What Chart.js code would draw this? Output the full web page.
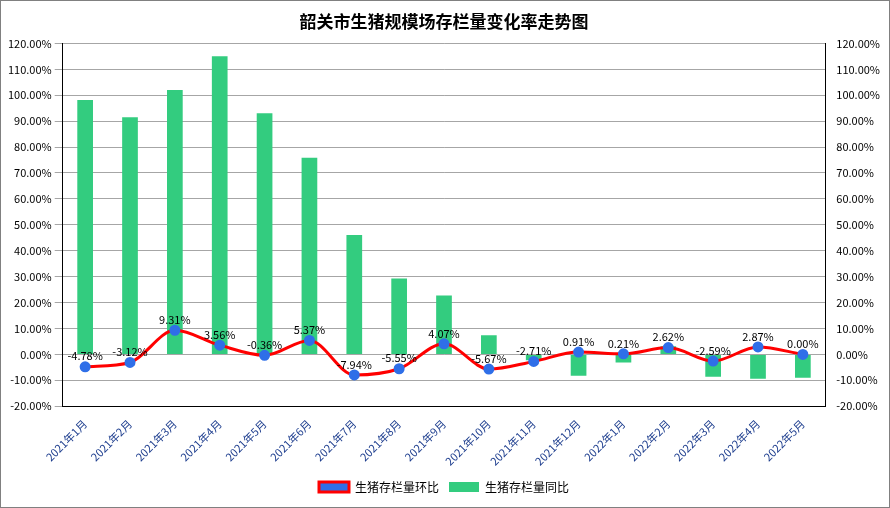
<!DOCTYPE html>
<html><head><meta charset="utf-8">
<script src="https://cdn.jsdelivr.net/npm/chart.js@4/dist/chart.umd.min.js"></script>
<style>
html,body{margin:0;padding:0;background:#fff}
#wrap{position:absolute;left:0;top:0;width:888px;height:506px;border:1px solid #808080}
</style></head><body>
<div id="wrap"><canvas id="c" width="888" height="506"></canvas></div>
<script>
var categories = ['2021年1月','2021年2月','2021年3月','2021年4月','2021年5月','2021年6月','2021年7月','2021年8月','2021年9月','2021年10月','2021年11月','2021年12月','2022年1月','2022年2月','2022年3月','2022年4月','2022年5月'];
var yoyValues = [98.2, 91.5, 102.0, 115.0, 93.0, 75.9, 46.1, 29.3, 22.7, 7.4, -2.3, -8.2, -3.1, 3.1, -8.6, -9.4, -9.0];
var momValues = [-4.78, -3.12, 9.31, 3.56, -0.36, 5.37, -7.94, -5.55, 4.07, -5.67, -2.71, 0.91, 0.21, 2.62, -2.59, 2.87, 0.00];
var seriesNames = ['生猪存栏量同比', '生猪存栏量环比'];

var font = "'Microsoft YaHei','Noto Sans CJK SC',sans-serif";

var labelPlugin = {
    id: 'pointLabels',
    afterDatasetsDraw: function(chart) {
        var ctx = chart.ctx;
        var meta = chart.getDatasetMeta(1);
        ctx.save();
        ctx.font = '11px ' + font;
        ctx.fillStyle = '#000';
        ctx.textAlign = 'center';
        ctx.textBaseline = 'bottom';
        meta.data.forEach(function(pt, i) {
            ctx.fillText(momValues[i].toFixed(2) + '%', pt.x, pt.y - 5);
        });
        ctx.restore();
    }
};

var tickCb = function(v) { return v.toFixed(2) + '%'; };

new Chart(document.getElementById('c'), {
    type: 'bar',
    data: {
        labels: categories,
        datasets: [{
            label: seriesNames[0],
            data: yoyValues,
            backgroundColor: '#33cc7f',
            barPercentage: 0.35,
            categoryPercentage: 1,
            order: 2
        }, {
            type: 'line',
            label: seriesNames[1],
            data: momValues,
            borderColor: '#ff0000',
            borderWidth: 3,
            backgroundColor: '#2f6fe8',
            pointBackgroundColor: '#2f6fe8',
            pointBorderColor: '#2f6fe8',
            pointRadius: 4,
            cubicInterpolationMode: 'monotone',
            tension: 0.4,
            order: 1
        }]
    },
    options: {
        responsive: false,
        animation: false,
        layout: { padding: { left: 4, right: 6, top: 4, bottom: 4 } },
        plugins: {
            title: { display: true, text: '韶关市生猪规模场存栏量变化率走势图', font: { family: font, size: 17, weight: 'bold' }, color: '#000', padding: { top: 6, bottom: 12 } },
            legend: {
                position: 'bottom',
                labels: { font: { family: font, size: 12 }, color: '#000', boxWidth: 30, boxHeight: 10, padding: 10 }
            }
        },
        scales: {
            x: {
                grid: { display: false },
                border: { color: '#000' },
                ticks: { color: '#1f3f8f', font: { family: font, size: 11 }, maxRotation: 45, minRotation: 45, autoSkip: false }
            },
            y: {
                min: -20, max: 120,
                ticks: { stepSize: 10, callback: tickCb, color: '#000', font: { family: font, size: 11 } },
                grid: { color: '#a6a6a6' },
                border: { color: '#000' }
            },
            y2: {
                position: 'right',
                min: -20, max: 120,
                ticks: { stepSize: 10, callback: tickCb, color: '#000', font: { family: font, size: 11 } },
                grid: { display: false },
                border: { color: '#000' }
            }
        }
    },
    plugins: [labelPlugin]
});
</script>
</body></html>
